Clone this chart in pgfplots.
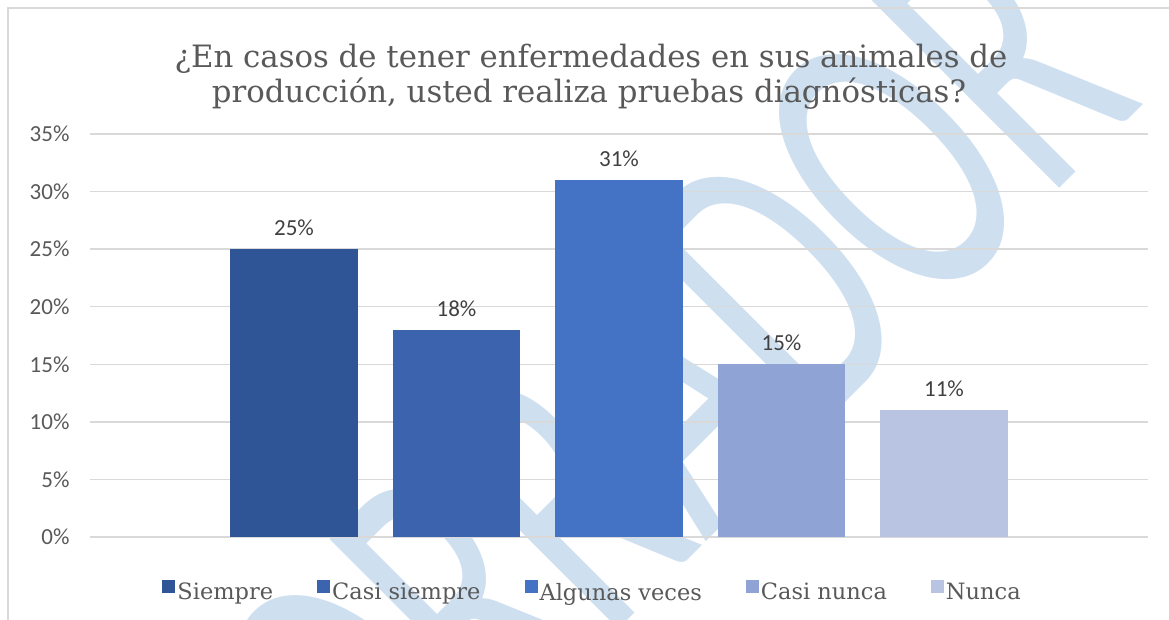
\documentclass[border=0pt]{standalone}
\usepackage{pgfplots}
\pgfplotsset{compat=1.18}
\usepackage{fontspec}
\setmainfont{DejaVu Serif}
\newfontfamily\calibri{Carlito}
\definecolor{bar1}{HTML}{2F5597}
\definecolor{bar2}{HTML}{3C64AE}
\definecolor{bar3}{HTML}{4472C4}
\definecolor{bar4}{HTML}{8FA3D4}
\definecolor{bar5}{HTML}{B9C3E2}
\definecolor{wmark}{RGB}{206,223,240}
\definecolor{framegray}{HTML}{D9D9D9}
\definecolor{gridgray}{HTML}{D9D9D9}
\definecolor{txtgray}{HTML}{595959}
\definecolor{lblgray}{HTML}{404040}

\begin{document}
\begin{tikzpicture}
\useasboundingbox (0,0) rectangle (1169pt,-620pt);
% watermark behind the chart (tall, narrow letters)
\node[rotate=45,inner sep=0pt,text=wmark] at (621pt,-438pt)
 {\scalebox{1}[1.6]{\calibri\fontsize{260}{260}\selectfont BORRADOR}};
\draw[framegray,line width=1.6pt] (8pt,-640pt) -- (8pt,-8pt) -- (1190pt,-8pt);
\node[anchor=base,inner sep=0pt,text=txtgray,font=\fontsize{30.8}{36}\selectfont] at (591pt,-68pt) {¿En casos de tener enfermedades en sus animales de};
\node[anchor=base,inner sep=0pt,text=txtgray,font=\fontsize{30.8}{36}\selectfont] at (589pt,-103pt) {producción, usted realiza pruebas diagnósticas?};
\begin{axis}[at={(90pt,-537pt)},anchor=south west,
 width=1058pt,height=403pt,scale only axis,
 xmin=-1,xmax=1,ymin=0,ymax=35,ytick={0,5,...,35},xtick=\empty,
 ymajorgrids,grid style={gridgray,line width=1.4pt},
 axis line style={draw=none},major tick length=0pt,
 ybar=35pt,bar width=127.5pt,
 /pgf/number format/assume math mode=true,
 yticklabel={\pgfmathprintnumber{\tick}\%},
 yticklabel style={font=\calibri\fontsize{23}{23}\selectfont,text=txtgray,xshift=-17pt},
 nodes near coords={\pgfmathprintnumber{\pgfplotspointmeta}\%},
 every node near coord/.append style={font=\calibri\fontsize{23}{23}\selectfont,text=lblgray,inner sep=0pt,yshift=13pt},
 legend columns=5,
 legend style={at={(0.475,-0.1365)},anchor=center,draw=none,fill=none,
  font=\fontsize{22.5}{22.5}\selectfont,text=txtgray,
  /tikz/every even column/.append style={column sep=42pt}},
 legend image code/.code={\fill[#1] (-2pt,-1pt) rectangle (11pt,12pt);},
]
\addplot[fill=bar1,draw=none] coordinates {(0,25)};
\addplot[fill=bar2,draw=none] coordinates {(0,18)};
\addplot[fill=bar3,draw=none] coordinates {(0,31)};
\addplot[fill=bar4,draw=none] coordinates {(0,15)};
\addplot[fill=bar5,draw=none] coordinates {(0,11)};
\legend{Siempre,Casi siempre,Algunas veces,Casi nunca,Nunca}
\end{axis}
\end{tikzpicture}
\end{document}
